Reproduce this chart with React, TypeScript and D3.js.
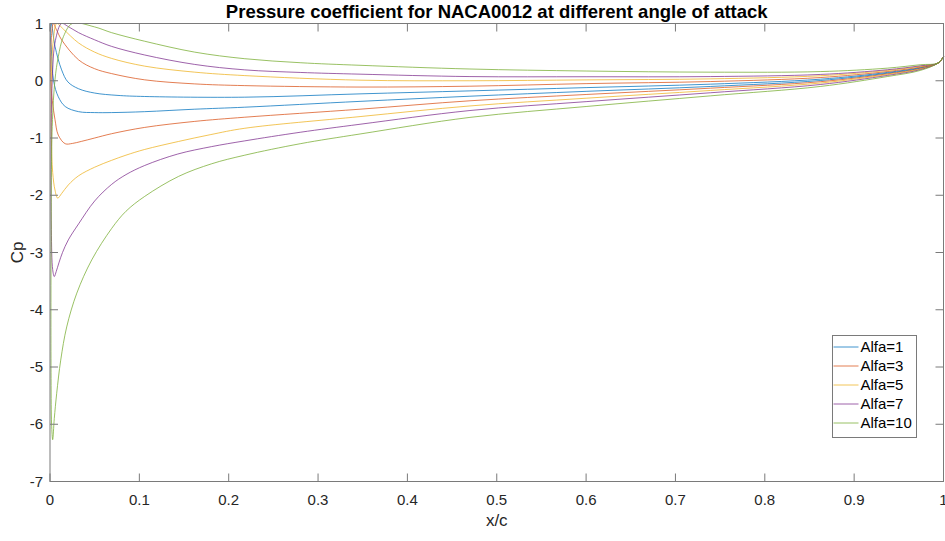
import React from "react";
import * as d3 from "d3";

// Chord positions are x/c, values are pressure coefficient Cp.
// Each surface runs from the leading edge toward the trailing edge.
type Pt = [number, number];

const alfa1Lower: Pt[] = [[0.0003,0.85],[0.0015,1.0],[0.0056,0.6],[0.013,0.19],[0.02,-0.02],[0.032,-0.14],[0.05,-0.215],[0.075,-0.255],[0.106,-0.275],[0.218,-0.287],[0.347,-0.229],[0.47,-0.177],[0.6,-0.12],[0.739,-0.06],[0.862,0.027],[0.937,0.145],[0.974,0.229],[0.994,0.31],[1.0,0.42]];
const alfa1Upper: Pt[] = [[0.0015,0.55],[0.004,0.0],[0.0093,-0.28],[0.017,-0.45],[0.032,-0.54],[0.05,-0.556],[0.069,-0.556],[0.106,-0.54],[0.162,-0.497],[0.218,-0.462],[0.347,-0.36],[0.47,-0.27],[0.6,-0.185],[0.739,-0.10],[0.862,0.004],[0.937,0.132],[0.974,0.22],[0.994,0.31],[1.0,0.42]];

const alfa3Lower: Pt[] = [[0.0008,0.4],[0.0015,0.75],[0.0037,1.0],[0.007,0.9],[0.013,0.715],[0.032,0.365],[0.05,0.21],[0.069,0.125],[0.106,0.016],[0.162,-0.055],[0.218,-0.085],[0.347,-0.11],[0.47,-0.095],[0.6,-0.05],[0.739,-0.014],[0.862,0.056],[0.937,0.161],[0.974,0.24],[0.994,0.31],[1.0,0.42]];
const alfa3Upper: Pt[] = [[0.0012,-0.1],[0.0026,-0.35],[0.0056,-0.68],[0.0093,-0.95],[0.017,-1.10],[0.025,-1.095],[0.035,-1.06],[0.05,-1.0],[0.069,-0.925],[0.106,-0.815],[0.162,-0.71],[0.218,-0.637],[0.347,-0.497],[0.47,-0.35],[0.6,-0.24],[0.739,-0.13],[0.862,-0.017],[0.937,0.12],[0.974,0.212],[0.994,0.31],[1.0,0.42]];

const alfa5Lower: Pt[] = [[0.0012,-0.3],[0.002,0.3],[0.004,0.75],[0.0075,1.0],[0.015,0.9],[0.032,0.66],[0.05,0.5],[0.069,0.39],[0.106,0.255],[0.162,0.15],[0.218,0.09],[0.347,0.01],[0.47,0.0],[0.6,0.015],[0.739,0.033],[0.862,0.087],[0.937,0.179],[0.974,0.252],[0.994,0.31],[1.0,0.42]];
const alfa5Upper: Pt[] = [[0.0015,-1.0],[0.003,-1.6],[0.0056,-1.91],[0.0086,-2.05],[0.013,-1.97],[0.0205,-1.82],[0.032,-1.66],[0.05,-1.51],[0.069,-1.39],[0.085,-1.3],[0.106,-1.2],[0.144,-1.06],[0.18,-0.94],[0.218,-0.83],[0.347,-0.626],[0.47,-0.44],[0.6,-0.305],[0.739,-0.17],[0.862,-0.04],[0.937,0.107],[0.974,0.203],[0.994,0.31],[1.0,0.42]];

const alfa7Lower: Pt[] = [[0.0012,-1.2],[0.0025,0.0],[0.006,0.7],[0.013,1.0],[0.02,0.95],[0.032,0.84],[0.05,0.715],[0.069,0.6],[0.106,0.45],[0.162,0.285],[0.218,0.19],[0.28,0.145],[0.347,0.115],[0.47,0.073],[0.6,0.07],[0.739,0.073],[0.862,0.11],[0.937,0.192],[0.974,0.261],[0.994,0.31],[1.0,0.42]];
const alfa7Upper: Pt[] = [[0.0015,-2.6],[0.003,-3.3],[0.0048,-3.42],[0.007,-3.33],[0.01,-3.18],[0.014,-3.0],[0.0205,-2.78],[0.032,-2.5],[0.05,-2.1],[0.069,-1.81],[0.085,-1.64],[0.106,-1.48],[0.143,-1.28],[0.181,-1.15],[0.218,-1.05],[0.28,-0.9],[0.347,-0.76],[0.47,-0.52],[0.6,-0.365],[0.739,-0.21],[0.862,-0.066],[0.937,0.092],[0.974,0.193],[0.994,0.31],[1.0,0.42]];

const alfa10Lower: Pt[] = [[0.0012,-3.0],[0.0025,-0.8],[0.0056,0.02],[0.0093,0.42],[0.015,0.77],[0.025,1.0],[0.05,0.94],[0.069,0.84],[0.106,0.69],[0.162,0.5],[0.218,0.385],[0.28,0.315],[0.347,0.27],[0.47,0.205],[0.6,0.17],[0.739,0.15],[0.862,0.16],[0.937,0.22],[0.974,0.28],[0.994,0.31],[1.0,0.42]];
const alfa10Upper: Pt[] = [[0.0012,-5.2],[0.0018,-6.0],[0.003,-6.27],[0.0048,-5.9],[0.0075,-5.46],[0.012,-4.88],[0.0187,-4.30],[0.03,-3.71],[0.0467,-3.13],[0.069,-2.58],[0.085,-2.28],[0.106,-2.02],[0.144,-1.67],[0.181,-1.45],[0.218,-1.30],[0.28,-1.1],[0.347,-0.93],[0.47,-0.64],[0.6,-0.45],[0.739,-0.264],[0.862,-0.10],[0.937,0.073],[0.974,0.18],[0.994,0.31],[1.0,0.42]];

const seriesNames = ["Alfa=1", "Alfa=3", "Alfa=5", "Alfa=7", "Alfa=10"];
const seriesColors = ["#0072BD", "#D95319", "#EDB120", "#7E2F8E", "#77AC30"];
const lowerSurfaces = [alfa1Lower, alfa3Lower, alfa5Lower, alfa7Lower, alfa10Lower];
const upperSurfaces = [alfa1Upper, alfa3Upper, alfa5Upper, alfa7Upper, alfa10Upper];

const xTicks = [0, 0.1, 0.2, 0.3, 0.4, 0.5, 0.6, 0.7, 0.8, 0.9, 1];
const yTicks = [-7, -6, -5, -4, -3, -2, -1, 0, 1];

const W = 945;
const H = 541;
const left = 50;
const right = 943.5;
const top = 23.5;
const bottom = 481.5;
const tickLen = 8;
const axisColor = "#7a7a7a";
const textColor = "#262626";
const font = "'Liberation Sans', Arial, Helvetica, sans-serif";

export default function App() {
  const x = d3.scaleLinear().domain([0, 1]).range([left, right]);
  const y = d3.scaleLinear().domain([-7, 1]).range([bottom, top]);
  const line = d3
    .line<Pt>()
    .x((d) => x(d[0]))
    .y((d) => y(d[1]))
    .curve(d3.curveCatmullRom.alpha(0.5));

  // Trailing edge (pressure side) -> leading edge -> trailing edge (suction side)
  const loops = lowerSurfaces.map((lo, i) => [...lo.slice().reverse(), ...upperSurfaces[i]]);

  const legX = 832.5;
  const legY = 335.5;
  const legW = 84;
  const legH = 102;
  const rowH = 19;

  return (
    <svg
      width={W}
      height={H}
      style={{ position: "absolute", left: 0, top: 0, background: "#fff" }}
      fontFamily={font}
    >
      <rect x={0} y={0} width={W} height={H} fill="#fff" />
      <defs>
        <clipPath id="plot-area">
          <rect x={left} y={top - 0.5} width={right - left + 2} height={bottom - top + 1} />
        </clipPath>
      </defs>

      <g clipPath="url(#plot-area)">
        {loops.map((pts, i) => (
          <path
            key={seriesNames[i]}
            d={line(pts) ?? ""}
            fill="none"
            stroke={seriesColors[i]}
            strokeWidth={1}
            strokeOpacity={0.75}
          />
        ))}
      </g>

      {/* axes box */}
      <rect
        x={left}
        y={top}
        width={right - left}
        height={bottom - top}
        fill="none"
        stroke={axisColor}
        strokeWidth={1}
      />

      {xTicks.map((t) => (
        <g key={"x" + t}>
          <line x1={x(t)} x2={x(t)} y1={bottom} y2={bottom - tickLen} stroke={axisColor} />
          <line x1={x(t)} x2={x(t)} y1={top} y2={top + tickLen} stroke={axisColor} />
          <text x={x(t)} y={505} textAnchor="middle" fontSize={15} fill={textColor}>
            {String(t)}
          </text>
        </g>
      ))}

      {yTicks.map((t) => (
        <g key={"y" + t}>
          <line x1={left} x2={left + tickLen} y1={y(t)} y2={y(t)} stroke={axisColor} />
          <line x1={right} x2={right - tickLen} y1={y(t)} y2={y(t)} stroke={axisColor} />
          <text
            x={43}
            y={y(t) + 5}
            textAnchor="end"
            fontSize={15}
            fill={textColor}
          >
            {String(t)}
          </text>
        </g>
      ))}

      <text
        x={(left + right) / 2}
        y={17.5}
        textAnchor="middle"
        fontSize={18.5}
        fontWeight="bold"
        fill="#000"
      >
        Pressure coefficient for NACA0012 at different angle of attack
      </text>
      <text x={(left + right) / 2} y={526} textAnchor="middle" fontSize={17} fill={textColor}>
        x/c
      </text>
      <text
        transform={`translate(23, ${(top + bottom) / 2}) rotate(-90)`}
        textAnchor="middle"
        fontSize={17}
        fill={textColor}
      >
        Cp
      </text>

      {/* legend */}
      <rect x={legX} y={legY} width={legW} height={legH} fill="#fff" stroke={axisColor} />
      {seriesNames.map((name, i) => {
        const cy = legY + 11.5 + i * rowH;
        return (
          <g key={"leg" + name}>
            <line
              x1={legX + 1}
              x2={legX + 26}
              y1={cy}
              y2={cy}
              stroke={seriesColors[i]}
              strokeOpacity={0.75}
            />
            <text x={legX + 28} y={cy + 5} fontSize={15} fill="#000">
              {name}
            </text>
          </g>
        );
      })}
    </svg>
  );
}
